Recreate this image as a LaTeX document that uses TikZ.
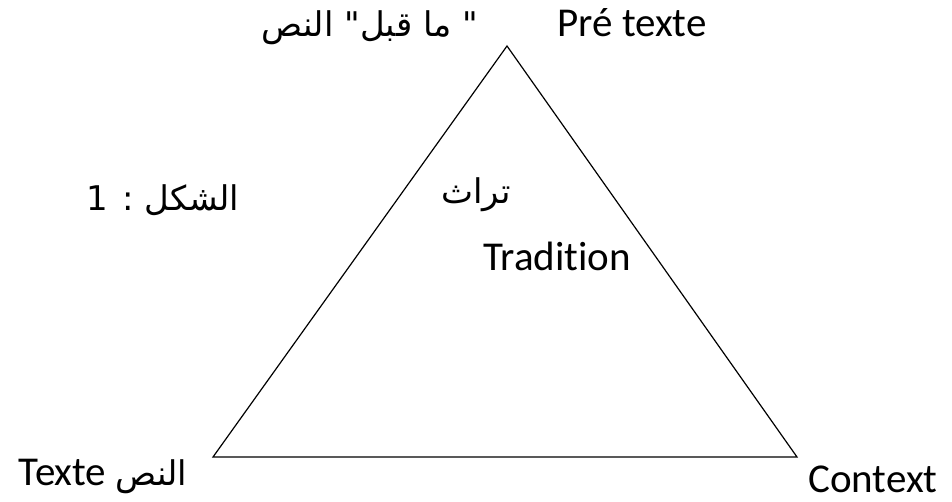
\documentclass[tikz,border=0pt]{standalone}
\usepackage{fontspec}
\setmainfont{Carlito}[Ligatures={TeX,NoCommon}]
\newfontfamily\arabicfont[Script=Arabic]{DejaVu Sans}
\TeXXeTstate=1

\begin{document}
\begin{tikzpicture}[
		x=1pt, y=-1pt,
		side/.style={draw, line width=1.2pt, line join=miter},
		lbl/.style={font=\fontsize{41}{48}\selectfont, inner sep=0pt, anchor=base},
		arlbl/.style={font=\fontsize{34}{40}\arabicfont, inner sep=0pt, anchor=base},
	]
		\useasboundingbox (0,0) rectangle (952,501);

		\coordinate (apex) at (507,46);
		\coordinate (left corner) at (213,457);
		\coordinate (right corner) at (797,457);

		\draw[side] (apex) -- (left corner) -- (right corner) -- cycle;

		\node (pre fr) [lbl] at (632,36) {Pré texte};
		\node (pre ar) [arlbl] at (370,36) {\beginR" ما قبل" النص\endR};
		\node (fig num) [arlbl] at (163,210) {\beginR الشكل : 1\endR};
		\node (trad ar) [arlbl] at (476,203) {\beginR تراث\endR};
		\node (trad fr) [lbl] at (557,270) {Tradition};
		\node (texte) [lbl] at (103,485) {Texte {\arabicfont\fontsize{34}{40}\selectfont\beginR النص\endR}};
		\node (context) [lbl] at (873,492) {Context};
	\end{tikzpicture}
\end{document}
